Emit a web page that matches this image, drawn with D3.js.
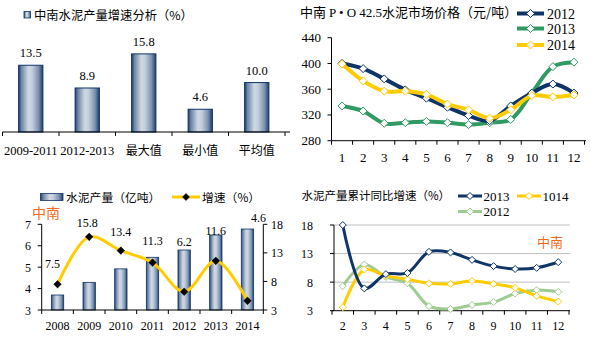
<!DOCTYPE html>
<html>
<head>
<meta charset="utf-8">
<script src="https://cdn.jsdelivr.net/npm/d3@7/dist/d3.min.js"></script>
<style>
  html, body { margin: 0; padding: 0; background: #fff; }
  svg { display: block; }
  text { font-family: "Liberation Serif", "Noto Sans CJK SC", serif; fill: #000; }
  .cjk { font-family: "Noto Sans CJK SC", "Liberation Sans", sans-serif; }
</style>
</head>
<body>
<svg id="chart" width="591" height="337"></svg>
<script>
// ---- 中南水泥产量增速分析（%）
const growthCats = ["2009-2011", "2012-2013", "最大值", "最小值", "平均值"];
const growthVals = [13.5, 8.9, 15.8, 4.6, 10.0];

// ---- 中南 P·O 42.5 水泥市场价格（元/吨）
const priceMonths = [1, 2, 3, 4, 5, 6, 7, 8, 9, 10, 11, 12];
const priceTicks = [280, 320, 360, 400, 440];
const price2012 = [400, 392, 376, 359, 346, 332, 319, 311, 334, 354, 368, 354];
const price2013 = [334, 326, 307, 308, 310, 308, 305, 308, 313, 354, 395, 402];
const price2014 = [399, 373, 357, 357, 352, 337, 328, 315, 328, 350, 348, 351];

// ---- 水泥产量（亿吨）与增速（%）
const outputYears = ["2008", "2009", "2010", "2011", "2012", "2013", "2014"];
const outputVals = [3.70, 4.29, 4.92, 5.46, 5.80, 6.50, 6.78];
const outputGrowth = [7.5, 15.8, 13.4, 11.3, 6.2, 11.6, 4.6];
const outputTicks = [3, 4, 5, 6, 7];
const outputGrowthTicks = [3, 8, 13, 18];

// ---- 水泥产量累计同比增速（%）
const cumMonths = [2, 3, 4, 5, 6, 7, 8, 9, 10, 11, 12];
const cumTicks = [3, 8, 13, 18];
const cum2013 = [18.0, 6.9, 9.4, 9.6, 13.3, 13.2, 11.9, 10.8, 10.3, 10.5, 11.5];
const cum1014 = [3.6, 10.2, 9.1, 8.5, 7.8, 7.7, 8.2, 7.7, 7.0, 5.6, 4.6];
const cum2012 = [7.3, 11.1, 8.9, 7.8, 3.8, 3.3, 4.0, 4.5, 6.0, 6.6, 6.3];

const NAVY = "#0f3568", GREEN = "#2f9a62", YELLOW = "#ffcc00", LIGHTGREEN = "#9dcb91", ORANGE = "#f26b1d";

const svg = d3.select("#chart");
const defs = svg.append("defs");

// Cylinder-like horizontal shading for the bars
const grad = defs.append("linearGradient").attr("id", "barGrad")
  .attr("x1", "0%").attr("x2", "100%").attr("y1", "0%").attr("y2", "0%");
[[0, "#1d3d6e"], [0.12, "#6f86a6"], [0.4, "#cfd8e3"], [0.55, "#c4cfdc"], [0.82, "#7d91ad"], [1, "#1d3d6e"]]
  .forEach(([o, c]) => grad.append("stop").attr("offset", o).attr("stop-color", c));

function diamond(g, x, y, r, stroke, fill, sw) {
  g.append("path")
    .attr("d", `M${x},${y - r}L${x + r},${y}L${x},${y + r}L${x - r},${y}Z`)
    .attr("fill", fill).attr("stroke", stroke).attr("stroke-width", sw);
}

// Category tick marks sit on the band boundaries
function bandTicks(g, scale, y, len) {
  const bw = scale.step();
  const edges = scale.domain().map(d => scale(d)).concat([scale(scale.domain()[scale.domain().length - 1]) + bw]);
  edges.forEach(x => g.append("line").attr("x1", x).attr("x2", x).attr("y1", y).attr("y2", y + len)
    .attr("stroke", "#000").attr("stroke-width", 1));
}

/* ================= Panel 1: growth analysis bars ================= */
{
  const g = svg.append("g");
  const x = d3.scaleBand().domain(growthCats).range([2.5, 285]).padding(0);
  const y = d3.scaleLinear().domain([0, 18]).range([132, 43]);
  const bw = x.bandwidth() * 0.43;

  g.append("rect").attr("x", 24).attr("y", 11.5).attr("width", 6.5).attr("height", 6.5)
    .attr("fill", "url(#barGrad)").attr("stroke", NAVY).attr("stroke-width", 0.8);
  g.append("text").attr("class", "cjk").attr("x", 34).attr("y", 19.5).attr("font-size", 12.3)
    .text("中南水泥产量增速分析（%）");

  g.selectAll("rect.bar").data(growthVals).join("rect").attr("class", "bar")
    .attr("x", (d, i) => x(growthCats[i]) + (x.bandwidth() - bw) / 2)
    .attr("y", d => y(d)).attr("width", bw).attr("height", d => y(0) - y(d))
    .attr("fill", "url(#barGrad)").attr("stroke", NAVY).attr("stroke-width", 1);

  g.selectAll("text.val").data(growthVals).join("text").attr("class", "val")
    .attr("x", (d, i) => x(growthCats[i]) + x.bandwidth() / 2)
    .attr("y", d => y(d) - 8).attr("text-anchor", "middle").attr("font-size", 12.5)
    .text(d => d.toFixed(1));

  g.append("line").attr("x1", 2.5).attr("x2", 290).attr("y1", y(0)).attr("y2", y(0)).attr("stroke", "#000");
  bandTicks(g, x, y(0), 4);

  growthCats.forEach(c => {
    const isNum = /^\d/.test(c);
    g.append("text").attr("class", isNum ? null : "cjk")
      .attr("x", x(c) + x.bandwidth() / 2).attr("y", 154.5).attr("text-anchor", "middle")
      .attr("font-size", isNum ? 12.5 : 12).text(c);
  });
}

/* ================= Panel 2: P·O 42.5 price lines ================= */
{
  const g = svg.append("g");
  const x = d3.scaleBand().domain(priceMonths).range([331.5, 584.5]).padding(0);
  const y = d3.scaleLinear().domain([280, 440]).range([140.7, 37.7]);
  const cx = m => x(m) + x.bandwidth() / 2;

  const title = g.append("text").attr("x", 300).attr("y", 16.5).attr("font-size", 13);
  title.append("tspan").attr("class", "cjk").text("中南 ");
  title.append("tspan").text("P • O 42.5");
  title.append("tspan").attr("class", "cjk").text("水泥市场价格（元/吨）");

  // axes
  g.append("line").attr("x1", 331.5).attr("x2", 331.5).attr("y1", y(440)).attr("y2", y(280)).attr("stroke", "#000");
  g.append("line").attr("x1", 331.5).attr("x2", 586).attr("y1", y(280)).attr("y2", y(280)).attr("stroke", "#000");
  priceTicks.forEach(t => {
    g.append("line").attr("x1", 327.5).attr("x2", 331.5).attr("y1", y(t)).attr("y2", y(t)).attr("stroke", "#000");
    g.append("text").attr("x", 321).attr("y", y(t) + 4.5).attr("text-anchor", "end").attr("font-size", 13).text(t);
  });
  bandTicks(g, x, y(280), 4);
  priceMonths.forEach(m => g.append("text").attr("x", cx(m)).attr("y", 161.5)
    .attr("text-anchor", "middle").attr("font-size", 13).text(m));

  const line = d3.line().x((d, i) => cx(priceMonths[i])).y(d => y(d)).curve(d3.curveCatmullRom.alpha(0.5));
  const series = [[price2012, NAVY, "2012"], [price2013, GREEN, "2013"], [price2014, YELLOW, "2014"]];
  // draw order: 2013 under 2012 under 2014
  [series[1], series[0], series[2]].forEach(([vals, col]) => {
    g.append("path").attr("d", line(vals)).attr("fill", "none").attr("stroke", col)
      .attr("stroke-width", 4).attr("stroke-linejoin", "round");
    vals.forEach((v, i) => diamond(g, cx(priceMonths[i]), y(v), 4, col, "#fff", 1));
  });

  series.forEach(([vals, col, name], k) => {
    const ly = [13.5, 28.5, 45][k];
    g.append("line").attr("x1", 517).attr("x2", 544).attr("y1", ly).attr("y2", ly)
      .attr("stroke", col).attr("stroke-width", 4);
    diamond(g, 530.5, ly, 4, col, "#fff", 1);
    g.append("text").attr("x", 547).attr("y", ly + 5).attr("font-size", 14).text(name);
  });
}

/* ================= Panel 3: output bars + growth line ================= */
{
  const g = svg.append("g");
  const x = d3.scaleBand().domain(outputYears).range([41.7, 263.3]).padding(0);
  const yL = d3.scaleLinear().domain([3, 7]).range([310, 224.3]);
  const yR = d3.scaleLinear().domain([3, 18]).range([310, 224.3]);
  const cx = d => x(d) + x.bandwidth() / 2;
  const bw = x.bandwidth() * 0.39;

  // legend
  g.append("rect").attr("x", 40.5).attr("y", 193.5).attr("width", 22.5).attr("height", 7)
    .attr("fill", "url(#barGrad)").attr("stroke", NAVY).attr("stroke-width", 0.8);
  g.append("text").attr("class", "cjk").attr("x", 66).attr("y", 201.5).attr("font-size", 11.8).text("水泥产量（亿吨）");
  g.append("line").attr("x1", 172).attr("x2", 200).attr("y1", 197).attr("y2", 197).attr("stroke", YELLOW).attr("stroke-width", 3);
  diamond(g, 186, 197, 3.5, "#000", "#000", 0.5);
  g.append("text").attr("class", "cjk").attr("x", 202).attr("y", 201.5).attr("font-size", 11.8).text("增速（%）");

  g.append("text").attr("class", "cjk").attr("x", 32).attr("y", 218).attr("font-size", 14)
    .style("fill", ORANGE).text("中南");

  // bars
  g.selectAll("rect.bar").data(outputVals).join("rect").attr("class", "bar")
    .attr("x", (d, i) => cx(outputYears[i]) - bw / 2).attr("y", d => yL(d))
    .attr("width", bw).attr("height", d => yL(3) - yL(d))
    .attr("fill", "url(#barGrad)").attr("stroke", NAVY).attr("stroke-width", 0.8);

  // axes
  g.append("line").attr("x1", 41.7).attr("x2", 41.7).attr("y1", 224.3).attr("y2", 310).attr("stroke", "#000");
  g.append("line").attr("x1", 263.3).attr("x2", 263.3).attr("y1", 224.3).attr("y2", 310).attr("stroke", "#000");
  g.append("line").attr("x1", 41.7).attr("x2", 263.3).attr("y1", 310).attr("y2", 310).attr("stroke", "#000");
  outputTicks.forEach(t => {
    g.append("line").attr("x1", 37.7).attr("x2", 41.7).attr("y1", yL(t)).attr("y2", yL(t)).attr("stroke", "#000");
    g.append("text").attr("x", 31).attr("y", yL(t) + 4.5).attr("text-anchor", "end").attr("font-size", 12).text(t);
  });
  outputGrowthTicks.forEach(t => {
    g.append("line").attr("x1", 263.3).attr("x2", 267.3).attr("y1", yR(t)).attr("y2", yR(t)).attr("stroke", "#000");
    g.append("text").attr("x", 271).attr("y", yR(t) + 4.5).attr("font-size", 12).text(t);
  });
  bandTicks(g, x, 310, 4);
  outputYears.forEach(d => g.append("text").attr("x", cx(d)).attr("y", 330)
    .attr("text-anchor", "middle").attr("font-size", 12).text(d));

  // growth line
  const line = d3.line().x((d, i) => cx(outputYears[i])).y(d => yR(d)).curve(d3.curveCatmullRom.alpha(0.5));
  g.append("path").attr("d", line(outputGrowth)).attr("fill", "none").attr("stroke", YELLOW)
    .attr("stroke-width", 3).attr("stroke-linejoin", "round");
  outputGrowth.forEach((v, i) => diamond(g, cx(outputYears[i]), yR(v), 3.8, "#000", "#000", 0.5));

  // data labels, nudged clear of bars and line
  const labelShift = [[-5, -16], [-2, -10], [0, -15], [0, -18], [0, -46], [0, -26], [11, -79]];
  outputGrowth.forEach((v, i) => g.append("text")
    .attr("x", cx(outputYears[i]) + labelShift[i][0]).attr("y", yR(v) + labelShift[i][1])
    .attr("text-anchor", "middle").attr("font-size", 12).text(v.toFixed(1)));
}

/* ================= Panel 4: cumulative YoY growth ================= */
{
  const g = svg.append("g");
  const x = d3.scaleBand().domain(cumMonths).range([332, 569]).padding(0);
  const y = d3.scaleLinear().domain([3, 18]).range([310.7, 225]);
  const cx = m => x(m) + x.bandwidth() / 2;

  g.append("text").attr("class", "cjk").attr("x", 301.5).attr("y", 200).attr("font-size", 11.5)
    .text("水泥产量累计同比增速（%）");

  // gridlines
  cumTicks.slice(1).forEach(t => g.append("line").attr("x1", 334).attr("x2", 570)
    .attr("y1", y(t)).attr("y2", y(t)).attr("stroke", "#c0c0c0").attr("stroke-width", 1));
  g.append("line").attr("x1", 334).attr("x2", 334).attr("y1", y(18)).attr("y2", y(3)).attr("stroke", "#000");
  g.append("line").attr("x1", 332).attr("x2", 570).attr("y1", y(3)).attr("y2", y(3)).attr("stroke", "#000");
  cumTicks.forEach(t => {
    g.append("line").attr("x1", 330).attr("x2", 334).attr("y1", y(t)).attr("y2", y(t)).attr("stroke", "#000");
    g.append("text").attr("x", 313).attr("y", y(t) + 4.5).attr("text-anchor", "end").attr("font-size", 12).text(t);
  });
  bandTicks(g, x, y(3), 4);
  cumMonths.forEach(m => g.append("text").attr("x", cx(m)).attr("y", 330)
    .attr("text-anchor", "middle").attr("font-size", 12).text(m));

  g.append("text").attr("class", "cjk").attr("x", 537).attr("y", 246.5).attr("font-size", 13)
    .style("fill", ORANGE).text("中南");

  const line = d3.line().x((d, i) => cx(cumMonths[i])).y(d => y(d)).curve(d3.curveCatmullRom.alpha(0.5));
  const series = [[cum2012, LIGHTGREEN, "2012"], [cum1014, YELLOW, "1014"], [cum2013, NAVY, "2013"]];
  series.forEach(([vals, col]) => {
    g.append("path").attr("d", line(vals)).attr("fill", "none").attr("stroke", col)
      .attr("stroke-width", 3).attr("stroke-linejoin", "round");
    vals.forEach((v, i) => diamond(g, cx(cumMonths[i]), y(v), 3.5, col, "#fff", 1));
  });

  // legend
  [[cum2013, NAVY, "2013", 458, 196], [cum1014, YELLOW, "1014", 517, 196], [cum2012, LIGHTGREEN, "2012", 458, 211.5]]
    .forEach(([vals, col, name, lx, ly]) => {
      g.append("line").attr("x1", lx).attr("x2", lx + 24).attr("y1", ly).attr("y2", ly)
        .attr("stroke", col).attr("stroke-width", 3);
      diamond(g, lx + 12, ly, 3.5, col, "#fff", 1);
      g.append("text").attr("x", lx + 25.5).attr("y", ly + 4.5).attr("font-size", 13).text(name);
    });
}
</script>
</body>
</html>
